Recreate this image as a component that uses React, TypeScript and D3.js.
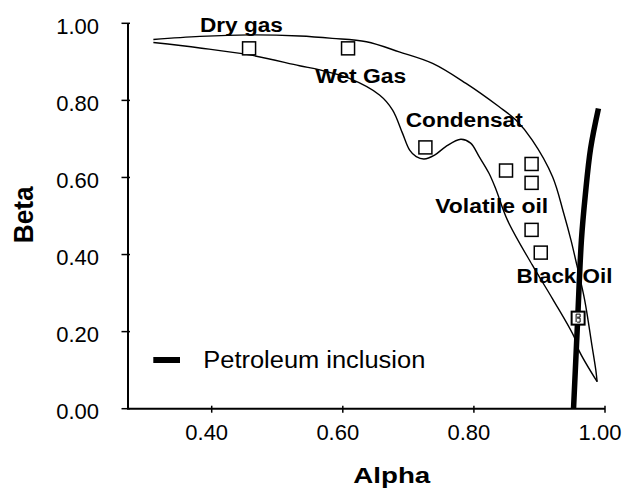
import React from "react";
import * as d3 from "d3";

const xTicks = [0.4, 0.6, 0.8, 1.0];
const yTicks = [0, 0.2, 0.4, 0.6, 0.8, 1.0];

// envelope boundary: upper branch (left -> tip)
const upperBoundary: [number, number][] = [
  [0.311, 0.958], [0.382, 0.966], [0.458, 0.970], [0.534, 0.967], [0.584, 0.961],
  [0.636, 0.952], [0.686, 0.926], [0.737, 0.896], [0.788, 0.844], [0.838, 0.784],
  [0.864, 0.749], [0.889, 0.697], [0.920, 0.602], [0.937, 0.507], [0.948, 0.438],
  [0.957, 0.373], [0.969, 0.282], [0.980, 0.165], [0.986, 0.100], [0.988, 0.070],
];
// lower branch (tip -> left)
const lowerBoundary: [number, number][] = [
  [0.988, 0.070], [0.960, 0.152], [0.953, 0.186], [0.920, 0.285], [0.889, 0.373],
  [0.851, 0.490], [0.833, 0.572], [0.823, 0.611], [0.808, 0.654], [0.795, 0.689],
  [0.780, 0.699], [0.757, 0.680], [0.740, 0.658], [0.724, 0.648], [0.712, 0.654],
  [0.702, 0.671], [0.691, 0.715], [0.676, 0.775], [0.656, 0.814], [0.610, 0.857],
  [0.565, 0.879], [0.534, 0.890], [0.458, 0.918], [0.382, 0.936], [0.311, 0.950],
];

const inclusionLine: [number, number][] = [
  [0.952, 0.0], [0.958, 0.22], [0.964, 0.437], [0.970, 0.555], [0.978, 0.675], [0.990, 0.779],
];

const sampleAlpha = [0.457, 0.608, 0.726, 0.849, 0.888, 0.888, 0.888, 0.902];
const sampleBeta = [0.935, 0.935, 0.678, 0.618, 0.635, 0.586, 0.464, 0.405];
const inclusionSample: [number, number] = [0.959, 0.235];

const regionNames = ["Dry gas", "Wet Gas", "Condensat", "Volatile oil", "Black Oil"];
const regionAlpha = [0.382, 0.558, 0.696, 0.741, 0.865];
const regionBeta = [0.978, 0.846, 0.732, 0.508, 0.325];
const regionWidths = [83, 91, 117, 113, 96];

const legendLabel = "Petroleum inclusion";
const xTitle = "Alpha";
const yTitle = "Beta";

const W = 626;
const H = 492;
const FONT = "'Liberation Sans', Arial, Helvetica, sans-serif";

export default function App() {
  const x = d3.scaleLinear().domain([0.2723, 1.0]).range([128, 605]);
  const y = d3.scaleLinear().domain([0, 1]).range([408.7, 23.3]);

  const curve = d3
    .line<[number, number]>()
    .x((d) => x(d[0]))
    .y((d) => y(d[1]))
    .curve(d3.curveCatmullRom.alpha(0.5));

  const sq = 13;
  const ip = inclusionSample;

  return (
    <svg
      width={W}
      height={H}
      style={{ position: "absolute", left: 0, top: 0, background: "#fff" }}
      fontFamily={FONT}
    >
      <rect x={0} y={0} width={W} height={H} fill="#fff" />

      {/* envelope */}
      <path d={curve(upperBoundary) || ""} fill="none" stroke="#000" strokeWidth={1.4} />
      <path d={curve(lowerBoundary) || ""} fill="none" stroke="#000" strokeWidth={1.4} />

      {/* petroleum inclusion line */}
      <path d={curve(inclusionLine) || ""} fill="none" stroke="#000" strokeWidth={5.5} strokeLinecap="butt" />

      {/* samples */}
      {sampleAlpha.map((a, i) => (
        <rect
          key={i}
          x={x(a) - sq / 2}
          y={y(sampleBeta[i]) - sq / 2}
          width={sq}
          height={sq}
          fill="#fff"
          stroke="#000"
          strokeWidth={1.5}
        />
      ))}
      <g>
        <rect x={x(ip[0]) - sq / 2} y={y(ip[1]) - sq / 2} width={sq} height={sq} fill="#fff" stroke="#000" strokeWidth={2} />
        <path
          d={`M${x(ip[0]) - 2},${y(ip[1]) - 4} v8 M${x(ip[0]) - 2},${y(ip[1]) - 4} h4 v3 h-3 M${x(ip[0]) - 1},${y(ip[1])} h3 v4 h-3`}
          fill="none"
          stroke="#000"
          strokeWidth={1}
        />
      </g>

      {/* region labels */}
      {regionNames.map((n, i) => (
        <text
          key={n}
          x={x(regionAlpha[i])}
          y={y(regionBeta[i])}
          fontSize={20}
          fontWeight="bold"
          textLength={regionWidths[i]}
          lengthAdjust="spacingAndGlyphs"
          fill="#000"
        >
          {n}
        </text>
      ))}

      {/* axes */}
      <line x1={128} x2={128} y1={y(1)} y2={y(0)} stroke="#000" strokeWidth={2} />
      <line x1={127} x2={x(1)} y1={y(0)} y2={y(0)} stroke="#000" strokeWidth={2} />
      {yTicks.map((t) => (
        <g key={"y" + t}>
          <line x1={121.5} x2={130} y1={y(t)} y2={y(t)} stroke="#000" strokeWidth={1.5} />
          <text x={99} y={y(t) + 10.5} textAnchor="end" fontSize={22} fill="#000">
            {d3.format(".2f")(t)}
          </text>
        </g>
      ))}
      {xTicks.map((t) => (
        <g key={"x" + t}>
          <line x1={x(t)} x2={x(t)} y1={y(0) - 3} y2={y(0) + 4} stroke="#000" strokeWidth={1.5} />
          <text x={x(t) - 5} y={440} textAnchor="middle" fontSize={22} fill="#000">
            {d3.format(".2f")(t)}
          </text>
        </g>
      ))}

      {/* axis titles */}
      <text x={353.3} y={483.3} fontSize={22} fontWeight="bold" textLength={77} lengthAdjust="spacingAndGlyphs">
        {xTitle}
      </text>
      <text
        transform={`translate(33.3,243.3) rotate(-90)`}
        fontSize={28}
        fontWeight="bold"
        textLength={57}
        lengthAdjust="spacingAndGlyphs"
      >
        {yTitle}
      </text>

      {/* legend */}
      <line x1={153.3} x2={180} y1={360} y2={360} stroke="#000" strokeWidth={6} />
      <text x={203.3} y={368.3} fontSize={23} textLength={222} lengthAdjust="spacingAndGlyphs">
        {legendLabel}
      </text>
    </svg>
  );
}
